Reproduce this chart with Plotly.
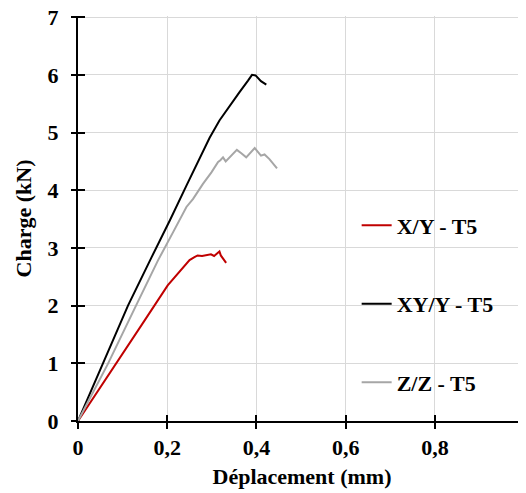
import plotly.graph_objects as go

# Data
xy_x = [0, 0.056, 0.112, 0.165, 0.194, 0.206, 0.243, 0.273, 0.295, 0.317, 0.340, 0.362,
        0.381, 0.390, 0.398, 0.410, 0.422]
xy_y = [0, 0.99, 2.0, 2.84, 3.29, 3.48, 4.08, 4.55, 4.91, 5.21, 5.47, 5.70,
        5.90, 6.0, 5.99, 5.89, 5.83]

zz_x = [0, 0.067, 0.130, 0.179, 0.215, 0.243, 0.258, 0.280, 0.299, 0.314, 0.319, 0.325,
        0.331, 0.340, 0.356, 0.366, 0.377, 0.396, 0.410, 0.418, 0.429, 0.446]
zz_y = [0, 0.99, 2.0, 2.78, 3.30, 3.71, 3.85, 4.11, 4.31, 4.49, 4.52, 4.57,
        4.50, 4.57, 4.70, 4.64, 4.57, 4.73, 4.60, 4.62, 4.54, 4.38]

x_y_x = [0, 0.074, 0.149, 0.201, 0.223, 0.250, 0.261, 0.268, 0.278, 0.287, 0.298, 0.305,
         0.317, 0.320, 0.332]
x_y_y = [0, 0.875, 1.74, 2.35, 2.55, 2.79, 2.84, 2.87, 2.86, 2.87, 2.89, 2.86,
         2.94, 2.87, 2.74]

series_names = ["X/Y - T5", "XY/Y - T5", "Z/Z - T5"]
x_ticks = [0, 0.2, 0.4, 0.6, 0.8, 1.0]
x_tick_text = ["0", "0,2", "0,4", "0,6", "0,8", "1"]
y_ticks = [0, 1, 2, 3, 4, 5, 6, 7]

FONT = "Liberation Serif"
FS = 22

fig = go.Figure()
fig.add_trace(go.Scatter(x=x_y_x, y=x_y_y, mode="lines", name=series_names[0],
                         line=dict(color="#C00000", width=2), legendgroup="a"))
fig.add_trace(go.Scatter(x=xy_x, y=xy_y, mode="lines", name=series_names[1],
                         line=dict(color="#000000", width=2), legendgroup="b"))
fig.add_trace(go.Scatter(x=zz_x, y=zz_y, mode="lines", name=series_names[2],
                         line=dict(color="#A6A6A6", width=2), legendgroup="c"))
# helper trace for the overlay axes (inside half of crossing ticks)
fig.add_trace(go.Scatter(x=[None], y=[None], xaxis="x2", yaxis="y2", showlegend=False,
                         hoverinfo="skip"))

bold = dict(family=FONT, size=FS, color="#000000", weight="bold")

x_range = [0, 1.004]
y_range = [0, 7.02]

# page body has an 8px margin: figure sized to fill the rest of the window
fig.update_layout(
    width=518, height=485,
    margin=dict(l=70, r=0, t=8, b=72, autoexpand=False),
    paper_bgcolor="white", plot_bgcolor="white",
    font=dict(family=FONT, size=FS, color="#000000"),
    showlegend=True,
    legend=dict(x=0.622, y=0.535, xanchor="left", yanchor="top",
                font=bold, tracegroupgap=47, bgcolor="rgba(0,0,0,0)"),
    xaxis=dict(range=x_range, tickvals=x_ticks, ticktext=x_tick_text,
               showgrid=True, gridcolor="#D9D9D9", gridwidth=1,
               showline=True, linecolor="#000000", linewidth=2,
               ticks="outside", ticklen=6, tickwidth=2, tickcolor="#000000",
               tickfont=bold, ticklabelstandoff=0, ticklabeloverflow="allow",
               zeroline=False, automargin=False,
               title=dict(text="Déplacement (mm)", standoff=9, font=bold)),
    yaxis=dict(range=y_range, tickvals=y_ticks,
               showgrid=True, gridcolor="#D9D9D9", gridwidth=1,
               showline=True, linecolor="#000000", linewidth=2,
               ticks="outside", ticklen=5, tickwidth=2, tickcolor="#000000",
               tickfont=bold, ticklabelstandoff=8, ticklabeloverflow="allow",
               zeroline=False, automargin=False,
               title=dict(text="Charge (kN)", standoff=10, font=bold)),
    xaxis2=dict(range=x_range, tickvals=x_ticks, overlaying="x", anchor="y2",
                showgrid=False, showline=False, showticklabels=False, zeroline=False,
                ticks="inside", ticklen=6, tickwidth=2, tickcolor="#000000"),
    yaxis2=dict(range=y_range, tickvals=y_ticks, overlaying="y", anchor="x2", side="left",
                showgrid=False, showline=False, showticklabels=False, zeroline=False,
                ticks="inside", ticklen=7, tickwidth=2, tickcolor="#000000"),
)

fig.write_html("out.html")
